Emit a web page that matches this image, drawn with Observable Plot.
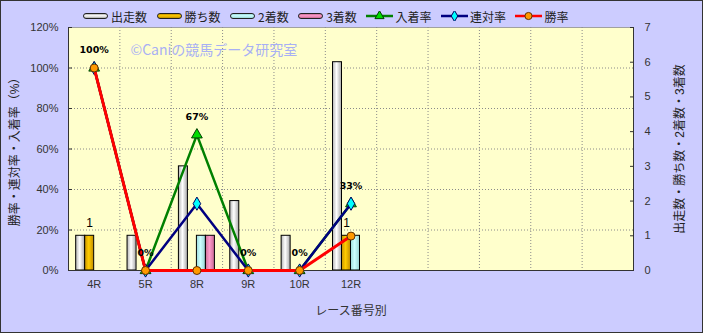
<!DOCTYPE html>
<html><head><meta charset="utf-8">
<script src="https://cdn.jsdelivr.net/npm/d3@7"></script>
<script src="https://cdn.jsdelivr.net/npm/@observablehq/plot@0.6"></script>
<style>
body{margin:0;background:#fff}
#wrap{position:relative;width:703px;height:333px;overflow:hidden;font-family:"Liberation Sans","Noto Sans CJK JP",sans-serif}
#wrap svg{display:block}
#border{position:absolute;left:0;top:0;width:703px;height:333px;box-sizing:border-box;border:1px solid #333;pointer-events:none}
#legend{position:absolute;top:8px;left:83px;height:16px;display:flex;align-items:center;font:12px "Noto Sans CJK JP",sans-serif;color:#222;white-space:nowrap}
#legend .it{display:flex;align-items:center;margin-right:9.5px}
#legend .sw{width:25px;height:6px;border:1px solid #222;border-radius:3px;margin-right:3px;box-sizing:border-box}
#legend svg{margin-right:2px}
</style></head>
<body><div id="wrap"><div id="legend"></div><div id="border"></div></div>
<script>
// ---- data ----
const races = ["4R","5R","8R","9R","10R","12R"];
const emptySlots = ["_7","_8","_9","_10","_11"];
const starts  = [1,1,3,2,1,6];   // 出走数
const wins    = [1,0,0,0,0,1];   // 勝ち数
const seconds = [0,0,1,0,0,1];   // 2着数
const thirds  = [0,0,1,0,0,0];   // 3着数
const placeRate   = [100,0,67,0,0,33];  // 入着率
const rentaiRate  = [100,0,33,0,0,33];  // 連対率
const winRate     = [100,0,0,0,0,17];   // 勝率
const barSeries  = ["出走数","勝ち数","2着数","3着数"];
const lineSeries = ["入着率","連対率","勝率"];
const leftTicks  = [0,20,40,60,80,100,120];
const rightTicks = [0,1,2,3,4,5,6,7];
const countMax = 7, pctMax = 120;
const watermark = "©Caniの競馬データ研究室";
const xTitle = "レース番号別";
const leftTitle = "勝率・連対率・入着率（%）";
const rightTitle = "出走数・勝ち数・2着数・3着数";

// ---- build ----
const rows = races.map((r,i)=>({race:r, starts:starts[i], wins:wins[i], seconds:seconds[i], thirds:thirds[i],
  place:placeRate[i], rentai:rentaiRate[i], win:winRate[i]}));
const domain = races.concat(emptySlots);
const W=703,H=333,mL=68,mR=70,mT=27,mB=63;
const step = (W-mL-mR)/domain.length;
const bw = 9;
const inset = (step-bw)/2;
const c2p = c => c*pctMax/countMax;
const barKeys = ["starts","wins","seconds","thirds"];
const font = "Liberation Sans, Noto Sans CJK JP, sans-serif";

const marks = [Plot.frame({fill:"#ffffcc", stroke:"#a0a0a0"})];
marks.push(Plot.ruleY([20,40,60,80,100], {stroke:"#8a8a8a", strokeDasharray:"1,2"}));
marks.push(Plot.ruleX(domain, {x:d=>d, dx:-step/2, stroke:"#8a8a8a", strokeDasharray:"1,2"}));
barKeys.forEach((k,i)=>{
  marks.push(Plot.barY(rows.filter(d=>d[k]>0), {x:"race", y:d=>c2p(d[k]), fill:`url(#bg${i})`, stroke:"#000", strokeWidth:1,
    insetLeft:inset, insetRight:inset, dx:(i-1.5)*bw}));
});
marks.push(Plot.ruleY([0], {stroke:"#333"}));
marks.push(Plot.ruleX([domain[0]], {x:d=>d, dx:-step/2, stroke:"#333"}));
marks.push(Plot.ruleX([domain[domain.length-1]], {x:d=>d, dx:step/2, stroke:"#333"}));
// lines
marks.push(Plot.line(rows, {x:"race", y:"place", stroke:"#008000", strokeWidth:2.5}));
marks.push(Plot.dot(rows, {x:"race", y:"place", symbol:"triangle", r:4, fill:"#00dd00", stroke:"#004000", strokeWidth:1}));
marks.push(Plot.line(rows, {x:"race", y:"rentai", stroke:"#000080", strokeWidth:2.5}));
marks.push(Plot.dot(rows, {x:"race", y:"rentai", symbol:"diamond", r:4, fill:"#00ffff", stroke:"#000060", strokeWidth:1}));
marks.push(Plot.line(rows, {x:"race", y:"win", stroke:"#ff0000", strokeWidth:3}));
marks.push(Plot.dot(rows, {x:"race", y:"win", symbol:"circle", r:4, fill:"#ff9900", stroke:"#603000", strokeWidth:1}));
// labels
marks.push(Plot.text(rows, {x:"race", y:"place", text:d=>d.place+"%", dy:-18, fontWeight:"bold", fontSize:9.5, fill:"#000", fontFamily:"DejaVu Sans"}));
marks.push(Plot.text(rows.filter(d=>d.wins>0), {x:"race", y:d=>c2p(d.wins), text:d=>String(d.wins), dx:-0.5*bw, dy:-13, fontSize:12, fill:"#000", fontFamily:font}));
marks.push(Plot.text([watermark], {frameAnchor:"top-left", dx:62, dy:18, text:d=>d, textAnchor:"start", fill:"#a8b0f4", fontSize:14, fontFamily:"Noto Sans CJK JP"}));
// axes
marks.push(Plot.axisX({tickSize:0, tickPadding:10, tickFormat:d=>races.includes(d)?d:"", label:null, fontSize:11, fill:"#333"}));
marks.push(Plot.axisX([], {label:xTitle, labelAnchor:"center", labelOffset:44, fontSize:12, fill:"#333"}));
marks.push(Plot.axisY(leftTicks, {anchor:"left", tickSize:0, tickPadding:10, tickFormat:d=>d+"%", label:null, fontSize:11, fill:"#333"}));
marks.push(Plot.axisY(leftTicks, {anchor:"left", tickSize:4, dx:4, tickFormat:()=>"", label:null, stroke:"#333"}));
marks.push(Plot.axisY([], {anchor:"left", label:leftTitle, labelAnchor:"center", labelArrow:"none", labelOffset:58, fontSize:12, fill:"#222"}));
marks.push(Plot.axisY(rightTicks.map(c2p), {anchor:"right", tickSize:0, tickPadding:11, tickFormat:d=>String(Math.round(d*countMax/pctMax)), label:null, fontSize:11, fill:"#333"}));
marks.push(Plot.axisY(rightTicks.map(c2p), {anchor:"right", tickSize:4, dx:-4, tickFormat:()=>"", label:null, stroke:"#333"}));
marks.push(Plot.axisY([], {anchor:"right", label:rightTitle, labelAnchor:"center", labelArrow:"none", labelOffset:50, fontSize:12, fill:"#222"}));

const chart = Plot.plot({
  width:W, height:H, marginLeft:mL, marginRight:mR, marginTop:mT, marginBottom:mB,
  style:{background:"#ccccff", fontFamily:font, color:"#333"},
  x:{type:"band", domain, padding:0, round:false, axis:null},
  y:{domain:[0,pctMax], axis:null},
  marks
});
// gradients for bars
const grads = [["#b4b4b4","#ffffff","#a8a8a8"],["#c89400","#ffcc00","#c08c00"],["#9cdada","#ccffff","#98d4d4"],["#cc7098","#ff9ccc","#c86894"]];
const defs = d3.select(chart).insert("defs", ":first-child");
grads.forEach((g,i)=>{
  const lg = defs.append("linearGradient").attr("id","bg"+i).attr("x1",0).attr("x2",1).attr("y1",0).attr("y2",0);
  lg.append("stop").attr("offset","0%").attr("stop-color",g[0]);
  lg.append("stop").attr("offset","45%").attr("stop-color",g[1]);
  lg.append("stop").attr("offset","100%").attr("stop-color",g[2]);
});
document.getElementById("wrap").prepend(chart);

// legend
const leg = d3.select("#legend");
const vgrads = grads.map(g=>`linear-gradient(to bottom, ${g[0]}, ${g[1]} 45%, ${g[2]})`);
barSeries.forEach((s,i)=>{
  const it = leg.append("div").attr("class","it");
  it.append("div").attr("class","sw").style("background", vgrads[i]);
  it.append("span").text(s);
});
const lineStyles = [["#008000","triangle","#00dd00","#004000"],["#000080","diamond","#00ffff","#000060"],["#ff0000","circle","#ff9900","#603000"]];
lineSeries.forEach((s,i)=>{
  const [c,sym,f,st] = lineStyles[i];
  const it = leg.append("div").attr("class","it");
  const sv = it.append("svg").attr("width",27).attr("height",10);
  sv.append("line").attr("x1",0).attr("x2",27).attr("y1",5).attr("y2",5).attr("stroke",c).attr("stroke-width",2.5);
  const shape = {triangle:d3.symbolTriangle, diamond:d3.symbolDiamond, circle:d3.symbolCircle}[sym];
  sv.append("path").attr("d", d3.symbol(shape, sym==="circle"?40:36)()).attr("transform","translate(13.5,5)").attr("fill",f).attr("stroke",st);
  it.append("span").text(s);
});
</script>
</body></html>
